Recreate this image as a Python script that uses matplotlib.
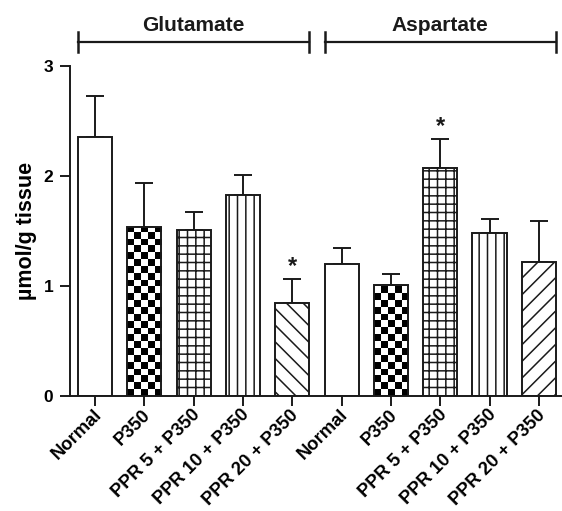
import numpy as np
import matplotlib
matplotlib.use("Agg")
import matplotlib.pyplot as plt
from matplotlib.transforms import ScaledTranslation

plt.rcParams['font.family'] = ['Liberation Sans', 'DejaVu Sans']
plt.rcParams['font.weight'] = 'bold'
plt.rcParams['hatch.linewidth'] = 1.1

categories = ["Normal", "P350", "PPR 5 + P350", "PPR 10 + P350", "PPR 20 + P350",
              "Normal", "P350", "PPR 5 + P350", "PPR 10 + P350", "PPR 20 + P350"]
groups = ["Glutamate", "Aspartate"]
glutamate_mean = [2.35, 1.53, 1.51, 1.82, 0.84]
glutamate_err = [0.37, 0.40, 0.16, 0.19, 0.22]
aspartate_mean = [1.20, 1.01, 2.07, 1.48, 1.22]
aspartate_err = [0.145, 0.10, 0.26, 0.13, 0.37]
significant = [False, False, False, False, True, False, False, True, False, False]
patterns = ["", "checker", "++", "||", "\\\\", "", "checker", "++", "||", "//"]
yticks = [0, 1, 2, 3]

means = glutamate_mean + aspartate_mean
errs = glutamate_err + aspartate_err
x = np.arange(len(means))
width = 0.69

fig = plt.figure(figsize=(5.62, 5.11), dpi=100)
ax = fig.add_axes([70/562, 115.3/511, 492/562, 330/511])

lw = 1.4
ax.errorbar(x, means, yerr=[np.zeros(len(errs)), errs], fmt='none', ecolor='#1a1a1a',
            elinewidth=lw, capsize=6.5, capthick=lw, zorder=1)
bars = ax.bar(x, means, width=width, color='white', edgecolor='#1a1a1a', linewidth=lw, zorder=2)

for b, pat in zip(bars, patterns):
    if pat == "checker":
        x0 = b.get_x()
        w = b.get_width()
        h = b.get_height()
        ncol = 5
        sq = 0.062
        nrow = int(np.ceil(h / sq))
        board = (np.add.outer(np.arange(nrow), np.arange(ncol)) % 2).astype(float)
        im = ax.imshow(board, cmap='gray', extent=(x0, x0 + w, 0, nrow * sq),
                       origin='lower', aspect='auto', interpolation='nearest', zorder=2.5,
                       vmin=0, vmax=1)
        im.set_clip_path(b)
        b.set_facecolor('none')
        b.set_zorder(3)
    elif pat:
        b.set_hatch(pat)

for xi, m, e, s in zip(x, means, errs, significant):
    if s:
        ax.text(xi, m + e + 0.01, "*", ha='center', va='bottom', fontsize=17,
                fontweight='bold', color='#1a1a1a')

# group brackets
by = 3.218
for gi, g in enumerate(groups):
    left = x[gi*5] - width/2
    right = x[gi*5 + 4] + width/2
    ax.plot([left, right], [by, by], color='#1a1a1a', lw=1.6, clip_on=False)
    for xe in (left, right):
        ax.plot([xe, xe], [by - 0.09, by + 0.09], color='#1a1a1a', lw=1.8, clip_on=False)
    ax.text((left + right)/2, by + 0.06, g, ha='center', va='bottom', fontsize=15,
            fontweight='bold', color='#1a1a1a')

ax.set_xlim(-0.507, 9.47)
ax.set_ylim(0, 3)
ax.set_yticks(yticks)
ax.set_yticklabels([str(t) for t in yticks], fontsize=12.5, fontweight='bold')
ax.set_xticks(x)
ax.set_xticklabels(categories, rotation=45, ha='right', va='center', rotation_mode='anchor',
                   fontsize=13.2, fontweight='bold')
ax.tick_params(axis='both', direction='out', length=7, width=lw, color='#1a1a1a', pad=5)
ax.tick_params(axis='x', pad=5)
shift = ScaledTranslation(4/100, 0, fig.dpi_scale_trans)
for lab in ax.get_xticklabels():
    lab.set_transform(lab.get_transform() + shift)
ax.set_ylabel("µmol/g tissue", fontsize=15.5, fontweight='bold', labelpad=5)
for sp in ['top', 'right']:
    ax.spines[sp].set_visible(False)
for sp in ['left', 'bottom']:
    ax.spines[sp].set_linewidth(lw)
    ax.spines[sp].set_color('#1a1a1a')

fig.savefig("out.png", dpi=100)
